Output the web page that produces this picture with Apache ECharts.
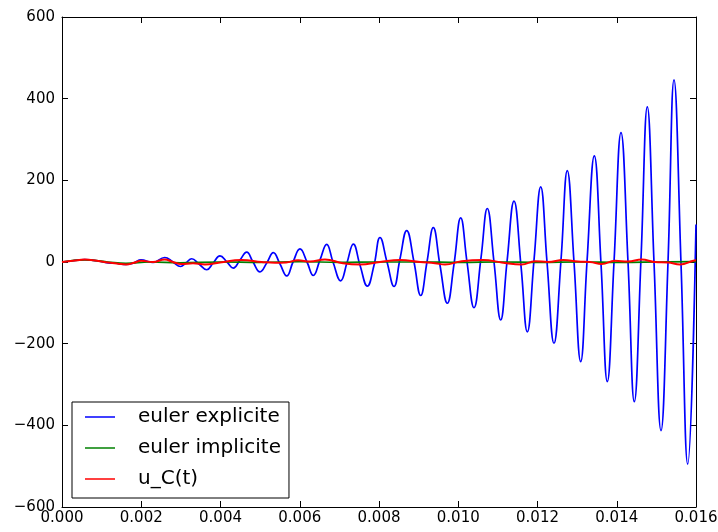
<!DOCTYPE html>
<html><head><meta charset="utf-8">
<script src="https://cdn.jsdelivr.net/npm/echarts@6/dist/echarts.min.js"></script>
<style>html,body{margin:0;padding:0;background:#fff}#c{width:718px;height:532px}</style>
</head><body><div id="c"></div>
<script>
// ---- data ----
const seriesNames = ["euler explicite", "euler implicite", "u_C(t)"];
const xTickLabels = ["0.000","0.002","0.004","0.006","0.008","0.010","0.012","0.014","0.016"];
const yTickLabels = ["\u2212600","\u2212400","\u2212200","0","200","400","600"];

const explicitT = [0,0.000278,0.000573,0.000883,0.001161,0.001363,0.001615,0.001817,0.001994,0.002297,
 0.002592,0.002801,0.002991,0.003129,0.003273,0.003457,0.003652,0.003811,0.003987,0.004164,
 0.004323,0.004492,0.004661,0.004820,0.004997,0.005174,0.005333,0.005502,0.005671,0.005830,
 0.006006,0.006183,0.006342,0.006511,0.006680,0.006839,0.007033,0.007192,0.007352,0.007521,
 0.007705,0.007874,0.008025,0.008202,0.008379,0.008530,0.008699,0.008883,0.009052,0.009211,
 0.009370,0.009539,0.009724,0.009893,0.010062,0.010221,0.010397,0.010574,0.010733,0.010902,
 0.011071,0.011230,0.011407,0.011584,0.011743,0.011912,0.012081,0.012240,0.012416,0.012593,
 0.012752,0.012921,0.013090,0.013249,0.013434,0.013603,0.013762,0.013931,0.014107,0.014284,
 0.014443,0.014612,0.014771,0.014940,0.015117,0.015293,0.015445,0.015622,0.015791,0.016];
const explicitV = [0,3,6,3,-2,-3,-6,-2,5,-1,
 11,0,-11,-2,8,-5,-19,-3,15,0,
 -15,5,24,0,-24,-1,23,-5,-34,0,
 32,0,-33,5,43,0,-46,-2,44,-8,
 -59,-8,60,0,-60,8,77,0,-82,0,
 84,-8,-101,-5,108,0,-112,10,131,0,
 -142,0,149,-10,-171,5,184,0,-199,5,
 224,0,-244,0,260,-5,-293,0,317,0,
 -342,8,380,0,-413,-2,446,-5,-495,92];

const implicitT = [0,0.000573,0.001161,0.001615,0.002221,0.002977,0.003987,0.004997,0.006006,0.007016,
 0.008025,0.009035,0.010044,0.011053,0.012063,0.013072,0.014082,0.015091,0.016];
const implicitV = [0,5,0,-3,0,-2,0,-1,1,-1,0,0,-1,0,-1,0,-1,0,1];

const exactT = [0,0.000278,0.000573,0.000883,0.001161,0.001413,0.001615,0.001817,0.001994,0.002297,
 0.002592,0.002801,0.003003,0.003306,0.003609,0.003987,0.004535,0.005040,0.005375,0.005653,
 0.005956,0.006259,0.006637,0.007091,0.007521,0.008025,0.008530,0.009035,0.009413,0.009666,
 0.010087,0.010632,0.011097,0.011601,0.011937,0.012265,0.012651,0.013022,0.013325,0.013620,
 0.013956,0.014284,0.014630,0.014965,0.015293,0.015596,0.015932,0.016];
const exactV = [0,3,6,3,-1,-4,-6,-2,3,0,
 6,0,-5,-3,-6,-1,5,0,-2,-1,
 4,1,6,-3,-6,0,5,0,-3,-6,
 2,5,-1,-6,2,0,5,1,0,-5,
 3,1,6,0,-1,-6,3,4];

const zip = (t, v) => t.map((x, i) => [x, v[i]]);
const FONT = "DejaVu Sans";

const chart = echarts.init(document.getElementById('c'), null, {renderer: 'canvas'});
const xLab = v => { const i = Math.round(v / 0.002); return xTickLabels[i] ?? ''; };
const yLab = v => { const i = Math.round((v + 600) / 200); return yTickLabels[i] ?? ''; };
const baseX = {type:'value', min:0, max:0.016, interval:0.002,
  axisLine:{show:true, onZero:false, lineStyle:{color:'#000', width:1}},
  axisTick:{show:true, inside:true, length:6, lineStyle:{color:'#000'}},
  splitLine:{show:false}};
const baseY = {type:'value', min:-600, max:600, interval:200,
  axisLine:{show:true, onZero:false, lineStyle:{color:'#000', width:1}},
  axisTick:{show:true, inside:true, length:6, lineStyle:{color:'#000'}},
  splitLine:{show:false}};

chart.setOption({
  animation:false,
  backgroundColor:'#fff',
  grid:{left:62, right:22, top:17, bottom:25, containLabel:false, outerBoundsMode:'none'},
  xAxis:[
    Object.assign({}, baseX, {position:'bottom', axisLabel:{show:true, formatter:xLab, fontFamily:FONT, fontSize:15, color:'#000', margin:4}}),
    Object.assign({}, baseX, {position:'top', axisLabel:{show:false}})
  ],
  yAxis:[
    Object.assign({}, baseY, {position:'left', axisLabel:{show:true, formatter:yLab, fontFamily:FONT, fontSize:15, color:'#000', margin:7}}),
    Object.assign({}, baseY, {position:'right', axisLabel:{show:false}})
  ],
  legend:{
    orient:'vertical', left:72, top:402,
    backgroundColor:'#fff', borderColor:'#000', borderWidth:1, borderRadius:0,
    padding:[5,8,9,13], itemGap:11, itemWidth:30, itemHeight:1.5, icon:'rect',
    textStyle:{fontFamily:FONT, fontSize:20, color:'#000', padding:[0,0,0,18], lineHeight:20},
    data:seriesNames
  },
  series:[
    {name:seriesNames[0], type:'line', data:zip(explicitT, explicitV), symbol:'none', smooth:0.45,
     lineStyle:{color:'#0000ff', width:1.7}, itemStyle:{color:'#0000ff'}},
    {name:seriesNames[1], type:'line', data:zip(implicitT, implicitV), symbol:'none', smooth:0.45,
     lineStyle:{color:'#008000', width:1.7}, itemStyle:{color:'#008000'}},
    {name:seriesNames[2], type:'line', data:zip(exactT, exactV), symbol:'none', smooth:0.45,
     lineStyle:{color:'#ff0000', width:2}, itemStyle:{color:'#ff0000'}}
  ]
});
</script>
</body></html>
